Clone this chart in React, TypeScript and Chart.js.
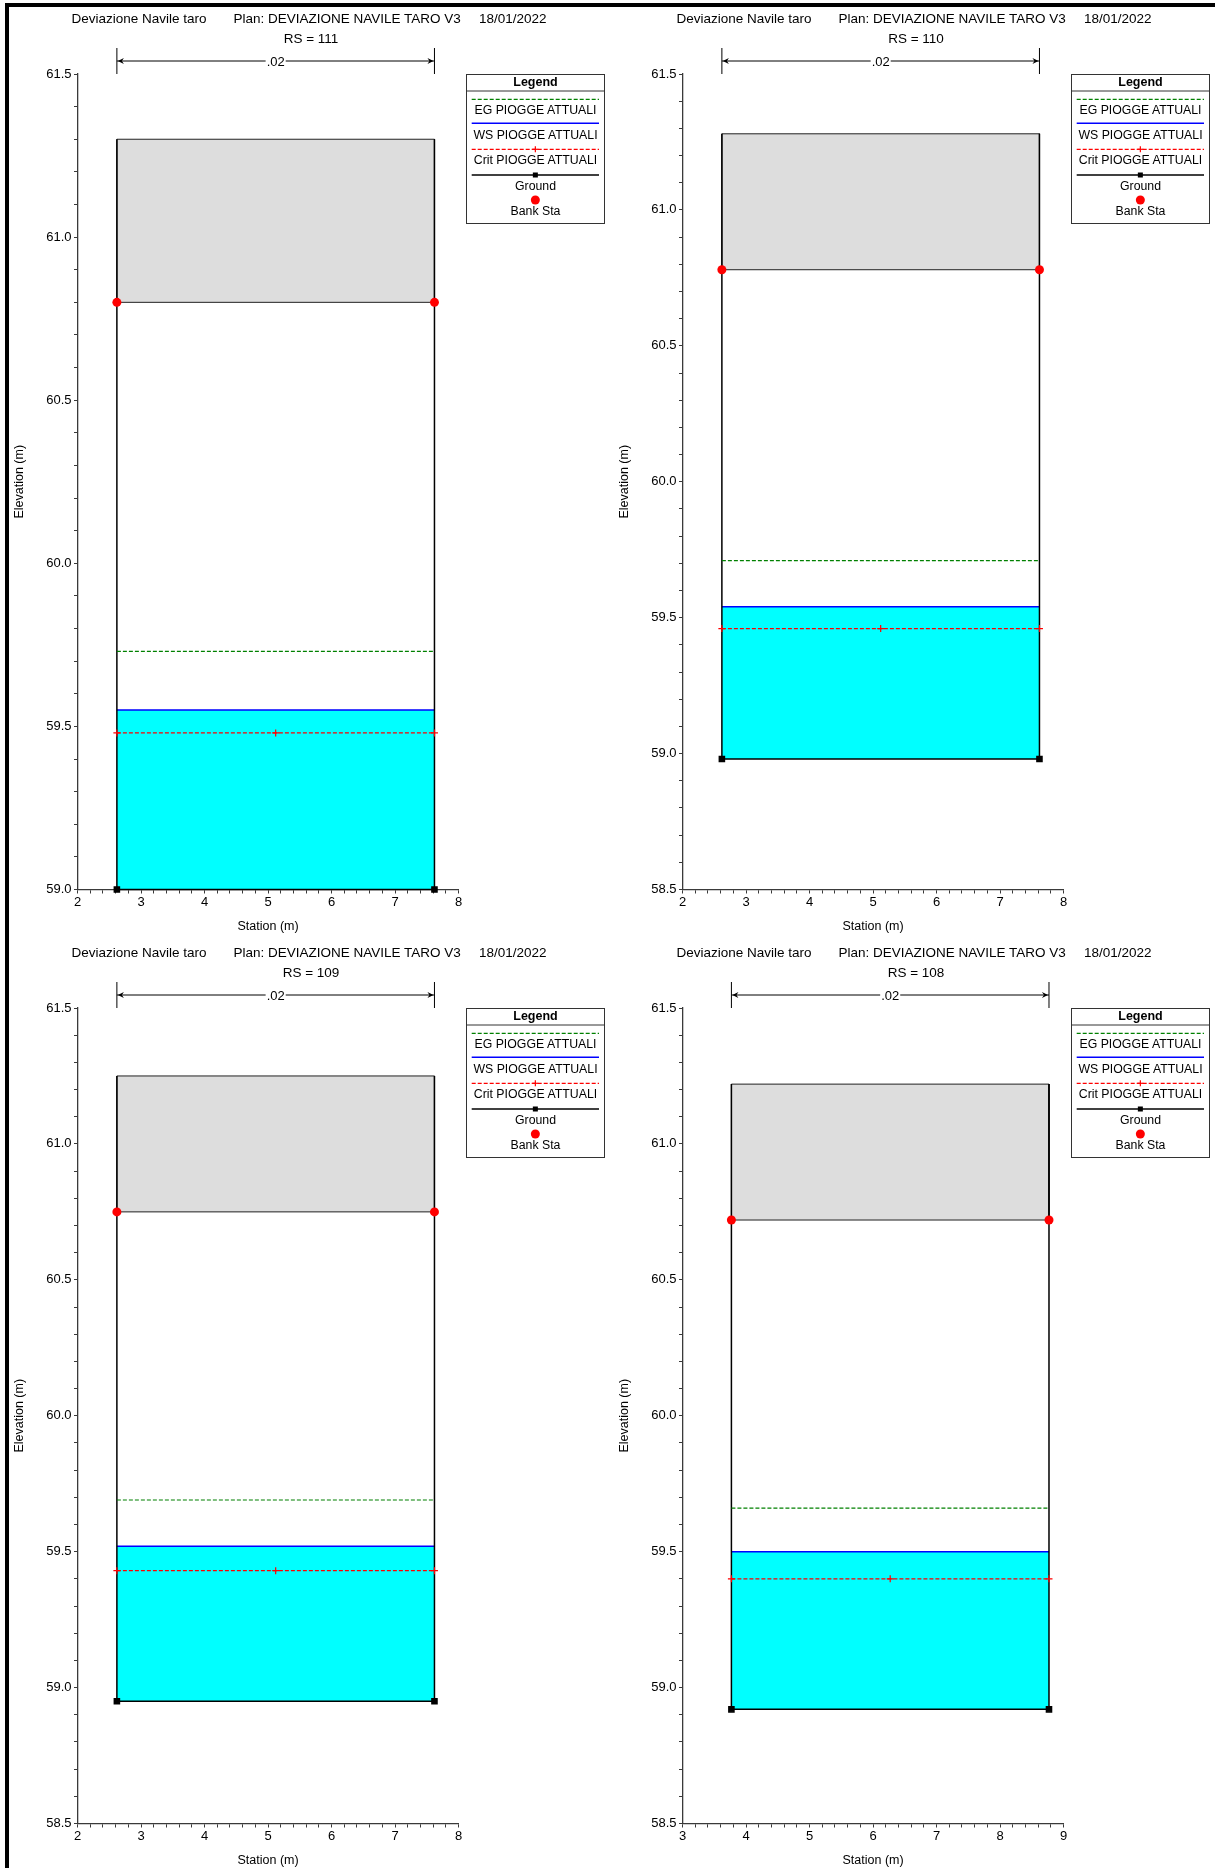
import React, { useEffect, useRef } from 'react';
import { Chart, registerables } from 'chart.js';

Chart.register(...registerables);

const FONT = "'Liberation Sans', Arial, Helvetica, sans-serif";

// ---- text ----
const projectTitle = 'Deviazione Navile taro';
const planTitle = 'Plan: DEVIAZIONE NAVILE TARO V3';
const runDate = '18/01/2022';
const xTitle = 'Station (m)';
const yTitle = 'Elevation (m)';
const legendTitle = 'Legend';
const legendLabels = ['EG PIOGGE ATTUALI', 'WS PIOGGE ATTUALI', 'Crit PIOGGE ATTUALI', 'Ground', 'Bank Sta'];

// ---- one entry per cross-section (RS 111, 110, 109, 108) ----
const rsLabels = ['111', '110', '109', '108'];
const manningN = ['.02', '.02', '.02', '.02'];
const xMin = [2, 2, 2, 3];
const xMax = [8, 8, 8, 9];
const yMin = [59.0, 58.5, 58.5, 58.5];
const yMax = [61.5, 61.5, 61.5, 61.5];
const leftSta = [2.62, 2.62, 2.62, 3.77];
const rightSta = [7.62, 7.62, 7.62, 8.77];
const groundElev = [59.0, 58.98, 58.95, 58.92];
const lidTopElev = [61.3, 61.28, 61.25, 61.22];
const bankElev = [60.8, 60.78, 60.75, 60.72];
const egElev = [59.73, 59.71, 59.69, 59.66];
const wsElev = [59.55, 59.54, 59.52, 59.5];
const critElev = [59.48, 59.46, 59.43, 59.4];
const xTickStep = 0.2;
const yTickStep = 0.1;

// ---- layout ----
const PANEL_W = 605;
const PANEL_H = 934;
const AREA_LEFT = 77.5;
const AREA_RIGHT = 458.6;
const AREA_TOP = 74;
const AREA_BOTTOM = 889.5;
const panelPos = [
  { left: 0, top: 0 },
  { left: 605, top: 0 },
  { left: 0, top: 934 },
  { left: 605, top: 934 },
];

const makeTicks = (min: number, max: number, step: number) => {
  const n = Math.round((max - min) / step);
  const t: { value: number }[] = [];
  for (let i = 0; i <= n; i++) t.push({ value: +(min + i * step).toFixed(3) });
  return t;
};
const isMultiple = (v: number, m: number) => Math.abs(v / m - Math.round(v / m)) < 1e-6;

const nValuePlugin = {
  id: 'nValue',
  afterDraw(chart: any, _args: any, opts: any) {
    const { ctx } = chart;
    const xs = chart.scales.x;
    const a = xs.getPixelForValue(opts.left);
    const b = xs.getPixelForValue(opts.right);
    const yTop = 48, yBot = 74, yMid = 61;
    ctx.save();
    ctx.strokeStyle = '#000';
    ctx.lineWidth = 1;
    ctx.font = `13px ${FONT}`;
    const tw = ctx.measureText(opts.text).width;
    const cx = (a + b) / 2;
    ctx.beginPath();
    ctx.moveTo(a, yTop); ctx.lineTo(a, yBot);
    ctx.moveTo(b, yTop); ctx.lineTo(b, yBot);
    ctx.moveTo(a, yMid); ctx.lineTo(cx - tw / 2 - 1, yMid);
    ctx.moveTo(cx + tw / 2 + 1, yMid); ctx.lineTo(b, yMid);
    ctx.stroke();
    ctx.fillStyle = '#000';
    ctx.beginPath();
    ctx.moveTo(a + 1, yMid); ctx.lineTo(a + 7, yMid - 3); ctx.lineTo(a + 5, yMid); ctx.lineTo(a + 7, yMid + 3); ctx.closePath();
    ctx.moveTo(b - 1, yMid); ctx.lineTo(b - 7, yMid - 3); ctx.lineTo(b - 5, yMid); ctx.lineTo(b - 7, yMid + 3); ctx.closePath();
    ctx.fill();
    ctx.textAlign = 'center';
    ctx.textBaseline = 'middle';
    ctx.fillText(opts.text, cx, yMid + 1);
    ctx.restore();
  },
};

function buildConfig(i: number): any {
  const L = leftSta[i], R = rightSta[i];
  const mid = (L + R) / 2;
  const axisColor = '#3a3a3a';
  return {
    type: 'scatter',
    data: {
      datasets: [
        {
          label: 'Bank Sta', order: 0,
          data: [{ x: L, y: bankElev[i] }, { x: R, y: bankElev[i] }],
          showLine: false, pointStyle: 'circle', pointRadius: 4.5,
          pointBackgroundColor: '#FF0000', pointBorderColor: '#FF0000', pointBorderWidth: 0,
        },
        {
          label: 'Crit', order: 1,
          data: [{ x: L, y: critElev[i] }, { x: mid, y: critElev[i] }, { x: R, y: critElev[i] }],
          showLine: true, borderColor: '#FF0000', borderWidth: 1.2, borderDash: [4, 2],
          pointStyle: 'cross', pointRadius: 3.5, pointBorderColor: '#FF0000', pointBorderWidth: 1.2,
        },
        {
          label: 'EG', order: 2,
          data: [{ x: L, y: egElev[i] }, { x: R, y: egElev[i] }],
          showLine: true, borderColor: '#008000', borderWidth: 1.2, borderDash: [4, 2], pointRadius: 0,
        },
        {
          label: 'Ground', order: 3,
          data: [
            { x: L, y: lidTopElev[i] }, { x: L, y: groundElev[i] },
            { x: R, y: groundElev[i] }, { x: R, y: lidTopElev[i] },
          ],
          showLine: true, borderColor: '#000', borderWidth: 1.5, tension: 0,
          pointStyle: 'rect', pointRadius: [0, 3.6, 3.6, 0],
          pointBackgroundColor: '#000', pointBorderColor: '#000',
        },
        {
          label: 'Lid', order: 4,
          data: [
            { x: L, y: bankElev[i] }, { x: L, y: lidTopElev[i] }, { x: R, y: lidTopElev[i] },
            { x: R, y: bankElev[i] }, { x: L, y: bankElev[i] },
          ],
          showLine: true, borderColor: '#222', borderWidth: 1, pointRadius: 0,
          fill: 'shape', backgroundColor: '#DDDDDD',
        },
        {
          label: 'WS', order: 5,
          data: [{ x: L, y: wsElev[i] }, { x: R, y: wsElev[i] }],
          showLine: true, borderColor: '#0000FF', borderWidth: 1.5, pointRadius: 0,
          fill: { value: groundElev[i] }, backgroundColor: '#00FFFF',
        },
      ].map((d: any) => ({ ...d, clip: false })),
    },
    options: {
      responsive: false,
      animation: false,
      events: [],
      layout: { padding: { left: 0, top: AREA_TOP, right: PANEL_W - AREA_RIGHT, bottom: 0 } },
      plugins: {
        legend: { display: false },
        tooltip: { enabled: false },
        nValue: { left: L, right: R, text: manningN[i] },
      },
      scales: {
        x: {
          type: 'linear', min: xMin[i], max: xMax[i],
          afterBuildTicks: (s: any) => { s.ticks = makeTicks(xMin[i], xMax[i], xTickStep); },
          afterFit: (s: any) => { s.height = PANEL_H - AREA_BOTTOM; },
          ticks: {
            autoSkip: false, maxRotation: 0, padding: 1, color: '#000',
            font: { family: FONT, size: 13 },
            callback: (v: number) => (isMultiple(v, 1) ? String(Math.round(v)) : ''),
          },
          grid: { drawOnChartArea: false, drawTicks: true, tickLength: 4, color: axisColor, lineWidth: 1 },
          border: { display: true, color: axisColor, width: 1.3 },
          title: { display: true, text: xTitle, color: '#000', font: { family: FONT, size: 12.5 }, padding: { top: 0, bottom: 0 } },
        },
        y: {
          type: 'linear', min: yMin[i], max: yMax[i],
          afterBuildTicks: (s: any) => { s.ticks = makeTicks(yMin[i], yMax[i], yTickStep); },
          afterFit: (s: any) => { s.width = AREA_LEFT; },
          ticks: {
            autoSkip: false, padding: 2.5, color: '#000',
            font: { family: FONT, size: 13 },
            callback: (v: number) => (isMultiple(v, 0.5) ? v.toFixed(1) : ''),
          },
          grid: { drawOnChartArea: false, drawTicks: true, tickLength: 3.5, color: axisColor, lineWidth: 1 },
          border: { display: true, color: axisColor, width: 1.3 },
          title: { display: true, text: yTitle, color: '#000', font: { family: FONT, size: 12.5 }, padding: { top: 12.5, bottom: 0 } },
        },
      },
    },
    plugins: [nValuePlugin],
  };
}

const textStyle = (left: number, centerY: number, size: number, extra: any = {}) => ({
  position: 'absolute' as const,
  left,
  top: centerY - 8,
  height: 16,
  lineHeight: '16px',
  fontFamily: FONT,
  fontSize: size,
  color: '#000',
  whiteSpace: 'nowrap' as const,
  ...extra,
});

function Legend() {
  const W = 139, H = 150;
  const lineX1 = 5.7, lineX2 = 133;
  const cx = (lineX1 + lineX2) / 2;
  const textY = [36, 61, 86, 112, 136.7];
  return (
    <div style={{ position: 'absolute', left: 466, top: 74, width: W, height: H }}>
      <svg width={W} height={H} style={{ position: 'absolute', left: 0, top: 0 }}>
        <rect x={0.5} y={0.5} width={W - 1} height={H - 1} fill="#fff" stroke="#333" strokeWidth={1} />
        <line x1={0} x2={W} y1={17} y2={17} stroke="#333" strokeWidth={1} />
        <line x1={lineX1} x2={lineX2} y1={25.3} y2={25.3} stroke="#008000" strokeWidth={1.2} strokeDasharray="4 2" />
        <line x1={lineX1} x2={lineX2} y1={49.3} y2={49.3} stroke="#0000FF" strokeWidth={1.5} />
        <line x1={lineX1} x2={lineX2} y1={75.3} y2={75.3} stroke="#FF0000" strokeWidth={1.2} strokeDasharray="4 2" />
        <line x1={cx - 3} x2={cx + 3} y1={75.3} y2={75.3} stroke="#FF0000" strokeWidth={1.2} />
        <line x1={cx} x2={cx} y1={72.3} y2={78.3} stroke="#FF0000" strokeWidth={1.2} />
        <line x1={lineX1} x2={lineX2} y1={101} y2={101} stroke="#000" strokeWidth={1.5} />
        <rect x={cx - 2.5} y={98.5} width={5} height={5} fill="#000" />
        <circle cx={cx} cy={126} r={4.5} fill="#FF0000" />
      </svg>
      <div style={{ ...textStyle(0, 8, 12.5, { fontWeight: 'bold', width: W, textAlign: 'center' }) }}>{legendTitle}</div>
      {legendLabels.map((t, k) => (
        <div key={t} style={textStyle(0, textY[k], 12.3, { width: W, textAlign: 'center' })}>{t}</div>
      ))}
    </div>
  );
}

function Panel({ idx }: { idx: number }) {
  const ref = useRef<HTMLCanvasElement>(null);
  useEffect(() => {
    const chart = new Chart(ref.current as HTMLCanvasElement, buildConfig(idx));
    return () => chart.destroy();
  }, [idx]);
  const pos = panelPos[idx];
  return (
    <div style={{ position: 'absolute', left: pos.left, top: pos.top, width: PANEL_W, height: PANEL_H }}>
      <canvas
        ref={ref}
        width={PANEL_W}
        height={PANEL_H}
        style={{ position: 'absolute', left: 0, top: 0, width: PANEL_W, height: PANEL_H }}
      />
      <div style={textStyle(71.5, 19, 13.5)}>{projectTitle}</div>
      <div style={textStyle(233.5, 19, 13.5)}>{planTitle}</div>
      <div style={textStyle(479, 19, 13.5)}>{runDate}</div>
      <div style={textStyle(211, 39, 13.5, { width: 200, textAlign: 'center' })}>{`RS = ${rsLabels[idx]}`}</div>
      <Legend />
    </div>
  );
}

export default function App() {
  return (
    <div style={{ position: 'absolute', left: 0, top: 0, width: 1215, height: 1868, background: '#fff', overflow: 'hidden' }}>
      {[0, 1, 2, 3].map((i) => (
        <Panel key={i} idx={i} />
      ))}
      <div style={{ position: 'absolute', left: 5, top: 3, width: 3.5, height: 1865, background: '#000' }} />
      <div style={{ position: 'absolute', left: 5, top: 3, width: 1210, height: 4, background: '#000' }} />
    </div>
  );
}
